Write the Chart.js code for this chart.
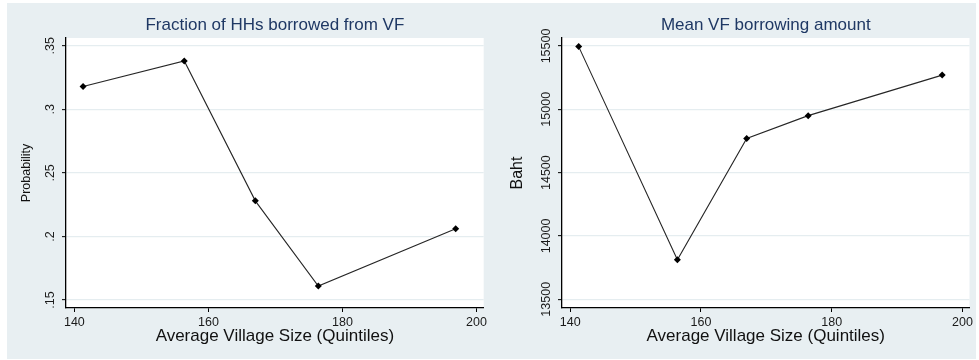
<!DOCTYPE html>
<html>
<head>
<meta charset="utf-8">
<script src="https://cdn.jsdelivr.net/npm/chart.js@4.4.1/dist/chart.umd.min.js"></script>
<style>
    html, body { margin: 0; padding: 0; background: #fff; }
    body { width: 979px; height: 360px; position: relative; overflow: hidden; }
    #panel { position: absolute; left: 7px; top: 3px; width: 969px; height: 356px; background: #e8eff2; }
    .box { position: absolute; top: 3px; height: 354px; }
    #box-share { left: 7px; width: 483px; }
    #box-amount { left: 490px; width: 486px; }
</style>
</head>
<body>
<div id="panel"></div>
<div class="box" id="box-share"><canvas id="share-chart" width="483" height="354"></canvas></div>
<div class="box" id="box-amount"><canvas id="amount-chart" width="486" height="354"></canvas></div>
<script>
// quintile means of village size
const villageSize = [141.3, 156.4, 167.0, 176.4, 196.9];
// share of households that borrowed from the village fund
const shareBorrowed = [0.318, 0.338, 0.228, 0.161, 0.206];
// mean borrowing amount, baht
const meanAmount = [15495, 13812, 14770, 14950, 15270];

const sizeTicks = [140, 160, 180, 200];
const shareTicks = [0.15, 0.2, 0.25, 0.3, 0.35];
const shareTickLabels = ['.15', '.2', '.25', '.3', '.35'];
const amountTicks = [13500, 14000, 14500, 15000, 15500];
const amountTickLabels = ['13500', '14000', '14500', '15000', '15500'];

const FONT = '"Liberation Sans", Arial, sans-serif';

// white plot region on the tinted panel
const plotBackground = {
    id: 'plotBackground',
    beforeDraw(chart) {
        const { ctx, chartArea: a } = chart;
        ctx.save();
        ctx.fillStyle = '#ffffff';
        ctx.fillRect(a.left, a.top, a.right - a.left, a.bottom - a.top);
        ctx.restore();
    }
};

// y tick labels written vertically, like the stata default
const rotatedTicks = {
    id: 'rotatedTicks',
    afterDraw(chart, args, opts) {
        const scale = chart.scales.y;
        const ctx = chart.ctx;
        ctx.save();
        ctx.font = '12.5px ' + FONT;
        ctx.fillStyle = '#1a1a1a';
        ctx.textAlign = 'center';
        ctx.textBaseline = 'middle';
        opts.values.forEach((v, i) => {
            ctx.save();
            ctx.translate(scale.right - 15.5, scale.getPixelForValue(v));
            ctx.rotate(-Math.PI / 2);
            ctx.fillText(opts.labels[i], 0, 0);
            ctx.restore();
        });
        ctx.restore();
    }
};

function makePanel(canvasId, cfg) {
    const ctx = document.getElementById(canvasId);
    return new Chart(ctx, {
        type: 'line',
        data: {
            datasets: [{
                data: villageSize.map((x, i) => ({ x: x, y: cfg.values[i] })),
                borderColor: '#262626',
                borderWidth: 1.1,
                pointStyle: 'rectRot',
                pointRadius: 3.5,
                pointBackgroundColor: '#000',
                pointBorderColor: '#000',
                pointBorderWidth: 0,
                tension: 0,
                fill: false
            }]
        },
        options: {
            responsive: false,
            animation: false,
            layout: { padding: { left: 0, top: 0, bottom: 0, right: cfg.padRight } },
            plugins: {
                legend: { display: false },
                tooltip: { enabled: false },
                title: {
                    display: true,
                    text: cfg.title,
                    color: '#1f3864',
                    font: { family: FONT, size: 17, weight: 'normal' },
                    padding: { top: 12.3, bottom: 2.3 },
                    fullSize: false
                },
                rotatedTicks: { values: cfg.ticks, labels: cfg.tickLabels }
            },
            scales: {
                x: {
                    type: 'linear',
                    position: 'bottom',
                    min: 138.75,
                    max: 201.08,
                    afterBuildTicks: s => { s.ticks = sizeTicks.map(value => ({ value })); },
                    afterFit: s => { s.height = 49; },
                    ticks: {
                        color: '#1a1a1a',
                        font: { family: FONT, size: 12.5 },
                        padding: 3,
                        maxRotation: 0,
                        callback: v => String(v)
                    },
                    grid: { drawOnChartArea: false, tickLength: 4, tickColor: '#000', tickWidth: 1 },
                    border: { color: '#000', width: 1.3 },
                    title: {
                        display: true,
                        text: 'Average Village Size (Quintiles)',
                        color: '#111',
                        font: { family: FONT, size: 17 },
                        padding: { top: 0, bottom: 10 }
                    }
                },
                y: {
                    type: 'linear',
                    min: cfg.min,
                    max: cfg.max,
                    afterBuildTicks: s => { s.ticks = cfg.ticks.map(value => ({ value })); },
                    afterFit: s => { s.width = cfg.axisWidth; },
                    ticks: { display: false },
                    grid: { color: '#e5edf0', lineWidth: 1.3, tickLength: 4, tickColor: '#000', tickWidth: 1 },
                    border: { color: '#000', width: 1.3 },
                    title: {
                        display: true,
                        text: cfg.yTitle,
                        color: '#111',
                        font: { family: FONT, size: cfg.yTitleSize },
                        padding: { top: cfg.yTitlePad, bottom: 0 }
                    }
                }
            }
        },
        plugins: [plotBackground, rotatedTicks]
    });
}

makePanel('share-chart', {
    title: 'Fraction of HHs borrowed from VF',
    values: shareBorrowed,
    min: 0.1437,
    max: 0.3561,
    ticks: shareTicks,
    tickLabels: shareTickLabels,
    yTitle: 'Probability',
    yTitleSize: 12.5,
    yTitlePad: 12.5,
    axisWidth: 59,
    padRight: 6
});

makePanel('amount-chart', {
    title: 'Mean VF borrowing amount',
    values: meanAmount,
    min: 13431,
    max: 15563,
    ticks: amountTicks,
    tickLabels: amountTickLabels,
    yTitle: 'Baht',
    yTitleSize: 16,
    yTitlePad: 18.4,
    axisWidth: 72,
    padRight: 3
});
</script>
</body>
</html>
